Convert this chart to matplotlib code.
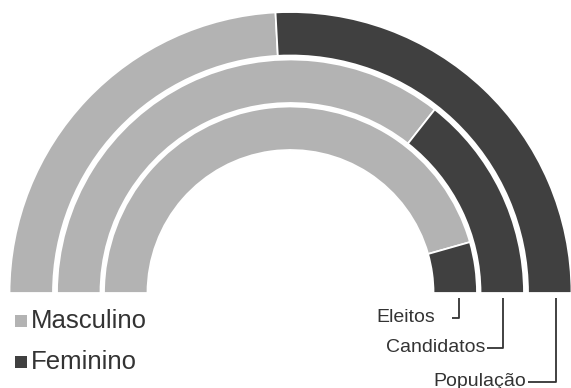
import matplotlib
matplotlib.use("Agg")
import matplotlib.pyplot as plt
from matplotlib.patches import Wedge

# participação por sexo (%), do anel externo para o interno
grupos = ["População", "Candidatos", "Eleitos"]
masculino = [48.3, 71.2, 91.2]
feminino = [51.7, 28.8, 8.8]
series = ["Masculino", "Feminino"]

COR_M = "#b3b3b3"
COR_F = "#404040"
TXT = "#333333"

W, H = 571, 388
fig = plt.figure(figsize=(W / 100, H / 100), dpi=100)
ax = fig.add_axes([0, 0, 1, 1])
ax.set_xlim(0, W)
ax.set_ylim(0, H)
ax.axis("off")

cx, cy = 290.5, H - 293
raios = [281, 233.5, 186.5]   # raio externo de cada anel
largura = 43.5

for r, m, f in zip(raios, masculino, feminino):
    total = m + f
    corte = 180 - 180 * m / total
    ax.add_patch(Wedge((cx, cy), r, corte, 180, width=largura,
                       facecolor=COR_M, edgecolor="white", linewidth=1.3))
    ax.add_patch(Wedge((cx, cy), r, 0, corte, width=largura,
                       facecolor=COR_F, edgecolor="white", linewidth=1.3))

# rótulos dos anéis com traço em "L"
rotulos = {
    "Eleitos": (459, 318, 452, 435),
    "Candidatos": (503, 348, 487, 485),
    "População": (556, 382, 528, 526),
}
for nome, (xv, yb, xh, xt) in rotulos.items():
    ax.plot([xv, xv, xh], [H - 298, H - yb, H - yb], color=TXT, lw=1.3,
            solid_capstyle="butt")
    ax.text(xt, H - yb + 1, nome, ha="right", va="center", fontsize=14,
            family="Liberation Sans", color=TXT)

# legenda
for nome, cor, y in zip(series, [COR_M, COR_F], [321, 362]):
    ax.scatter([21], [H - y], marker="s", s=8 ** 2, color=cor, linewidths=0)
    ax.text(31, H - y, nome, ha="left", va="center", fontsize=18.5,
            family="Liberation Sans", color=TXT)

fig.savefig("out.png", dpi=100)
